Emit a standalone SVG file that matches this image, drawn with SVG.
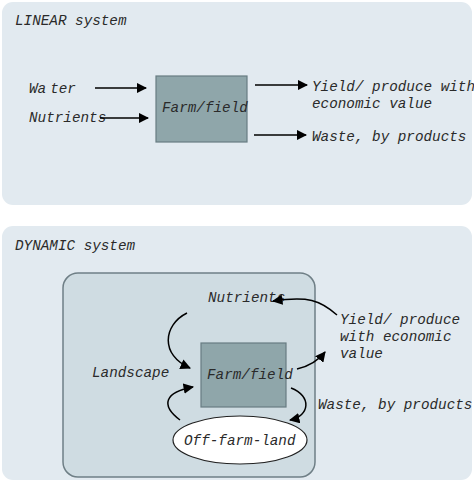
<svg xmlns="http://www.w3.org/2000/svg" width="474" height="482" viewBox="0 0 474 482">
<defs>
<style>
text{font-family:"Liberation Mono","DejaVu Sans Mono",monospace;font-style:italic;font-size:14.3px;fill:#2a2a2a}
.panel{fill:#e2eaf0}
.inner{fill:#cfdce2;stroke:#6f7f86;stroke-width:1.5}
.farm{fill:#8fa6aa;stroke:#687c82;stroke-width:1.2}
.arr{fill:none;stroke:#000;stroke-width:1.5;marker-end:url(#ah)}
</style>
<marker id="ah" viewBox="0 0 10 10" refX="9" refY="5" markerWidth="7" markerHeight="7" orient="auto" markerUnits="strokeWidth">
<path d="M0,0 L10,5 L0,10 z" fill="#000"/>
</marker>
</defs>
<rect width="474" height="482" fill="#fff"/>
<g id="linear-panel">
<rect class="panel" x="2" y="2" width="470" height="203" rx="11"/>
<text x="15" y="25">LINEAR system</text>
</g>
<g id="water"><text x="29" y="93">Wa<tspan dx="4">ter</tspan></text></g>
<g id="nutrients"><text x="29" y="122">Nutrients</text></g>
<g id="farm1">
<rect class="farm" x="156" y="76" width="91" height="66"/>
<text x="162" y="112">Farm/field</text>
</g>
<g id="yield1"><text x="312" y="91">Yield/ produce with</text><text x="312" y="108">economic value</text></g>
<g id="waste1"><text x="312" y="141">Waste, by products</text></g>
<g id="dynamic-panel">
<rect class="panel" x="2" y="226" width="470" height="254" rx="11"/>
<text x="15" y="250">DYNAMIC system</text>
</g>
<g id="landscape">
<rect class="inner" x="63" y="273" width="252" height="204" rx="15"/>
<text x="92" y="377">Landscape</text>
</g>
<g id="nutrients2"><text x="208" y="302">Nutrients</text></g>
<g id="farm2">
<rect class="farm" x="201" y="343" width="85" height="64"/>
<text x="207" y="379">Farm/field</text>
</g>
<g id="yield2"><text x="340" y="324">Yield/ produce</text><text x="340" y="341">with economic</text><text x="340" y="358">value</text></g>
<g id="waste2"><text x="318" y="409">Waste, by products</text></g>
<g id="offfarm">
<ellipse cx="240" cy="440" rx="67" ry="24" fill="#fff" stroke="#222" stroke-width="1.2"/>
<text x="184" y="445">Off-farm-land</text>
</g>
<g id="connectors">
<path class="arr" d="M95,88 L146,88"/>
<path class="arr" d="M100,118 L148,118"/>
<path class="arr" d="M255,85 L307,85"/>
<path class="arr" d="M254,135 L306,135"/>
<path class="arr" d="M187,313 C163,325 160,355 190,368"/>
<path class="arr" d="M180,420 C160,405 165,392 193,387"/>
<path class="arr" d="M297,369 C310,366 318,361 325,352"/>
<path class="arr" d="M291,388 C312,396 310,416 290,420"/>
<path class="arr" d="M337,315 C320,300 308,296 273,301"/>
</g>
</svg>
